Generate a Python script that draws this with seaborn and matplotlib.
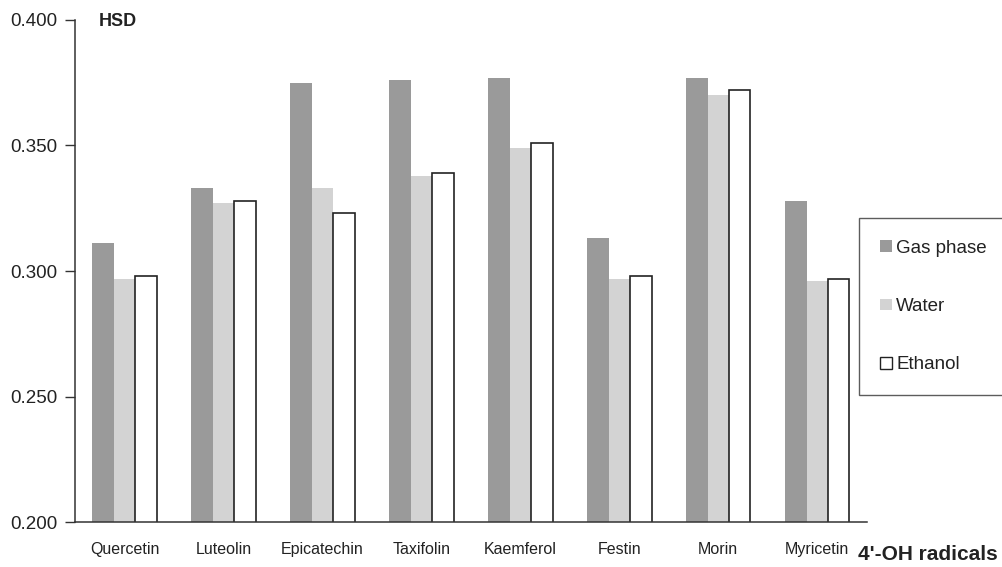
import numpy as np
import pandas as pd
import matplotlib
matplotlib.use('Agg')
import matplotlib.pyplot as plt
from matplotlib.patches import Patch
import seaborn as sns

# Data
compounds = ['Quercetin', 'Luteolin', 'Epicatechin', 'Taxifolin',
             'Kaemferol', 'Festin', 'Morin', 'Myricetin']
gas_phase = [0.311, 0.333, 0.375, 0.376, 0.377, 0.313, 0.377, 0.328]
water = [0.297, 0.327, 0.333, 0.338, 0.349, 0.297, 0.370, 0.296]
ethanol = [0.298, 0.328, 0.323, 0.339, 0.351, 0.298, 0.372, 0.297]
series = ['Gas phase', 'Water', 'Ethanol']
y_ticks = [0.200, 0.250, 0.300, 0.350, 0.400]

df = pd.DataFrame({
    'compound': compounds * 3,
    'series': [s for s in series for _ in compounds],
    'value': gas_phase + water + ethanol,
})

sns.set_style('white')
plt.rcParams['font.family'] = ['Liberation Sans', 'DejaVu Sans']

fig = plt.figure(figsize=(10.02, 5.67), dpi=100)
ax = fig.add_axes([0.075, 0.079, 0.79, 0.886])

palette = {'Gas phase': '#9a9a9a', 'Water': '#d3d3d3', 'Ethanol': 'white'}
sns.barplot(data=df, x='compound', y='value', hue='series', palette=palette,
            width=0.65, ax=ax, legend=False, saturation=1)

# only the ethanol bars have an outline
for cont, name in zip(ax.containers, series):
    for patch in cont:
        if name == 'Ethanol':
            patch.set_edgecolor('#222222')
            patch.set_linewidth(1.2)
        else:
            patch.set_edgecolor('none')

ax.set_ylim(0.2, 0.4)
ax.set_xlim(-0.5, len(compounds) - 0.5)
ax.set_yticks(y_ticks)
ax.set_yticklabels([f'{v:.3f}' for v in y_ticks], fontsize=13.5, color='#222222')

# category labels centred, tick marks between categories
ax.set_xticks(range(len(compounds)))
ax.set_xticklabels(compounds, fontsize=11.5, color='#222222')
ax.tick_params(axis='x', which='major', length=0, pad=14)
ax.set_xticks(np.arange(-0.5, len(compounds), 1.0), minor=True)
ax.tick_params(axis='x', which='minor', length=5, width=1, color='#333333', direction='out')
ax.tick_params(axis='y', length=7, width=1, color='#333333', direction='out', left=True, pad=6)

ax.set_xlabel('')
ax.set_ylabel('')
for side in ['top', 'right']:
    ax.spines[side].set_visible(False)
for side in ['left', 'bottom']:
    ax.spines[side].set_color('#333333')
    ax.spines[side].set_linewidth(1.1)

fig.text(0.099, 0.962, 'HSD', fontsize=13, fontweight='bold', color='#222222', va='center')
fig.text(0.856, 0.022, "4'-OH radicals", fontsize=15, fontweight='bold', color='#222222', va='center')

# legend in a box to the right of the plot, running off the edge
handles = [Patch(facecolor=palette[s], edgecolor='#222222' if s == 'Ethanol' else 'none') for s in series]
leg = fig.legend(handles, series, loc='upper left', bbox_to_anchor=(0.857, 0.615),
                 fontsize=13.5, frameon=True, fancybox=False, labelspacing=2.2,
                 handlelength=0.6, handleheight=0.6, handletextpad=0.25,
                 borderpad=1.15, borderaxespad=0)
leg.get_frame().set_edgecolor('#333333')
leg.get_frame().set_linewidth(1.0)
for t in leg.get_texts():
    t.set_color('#222222')

fig.savefig('out.png', dpi=100)
